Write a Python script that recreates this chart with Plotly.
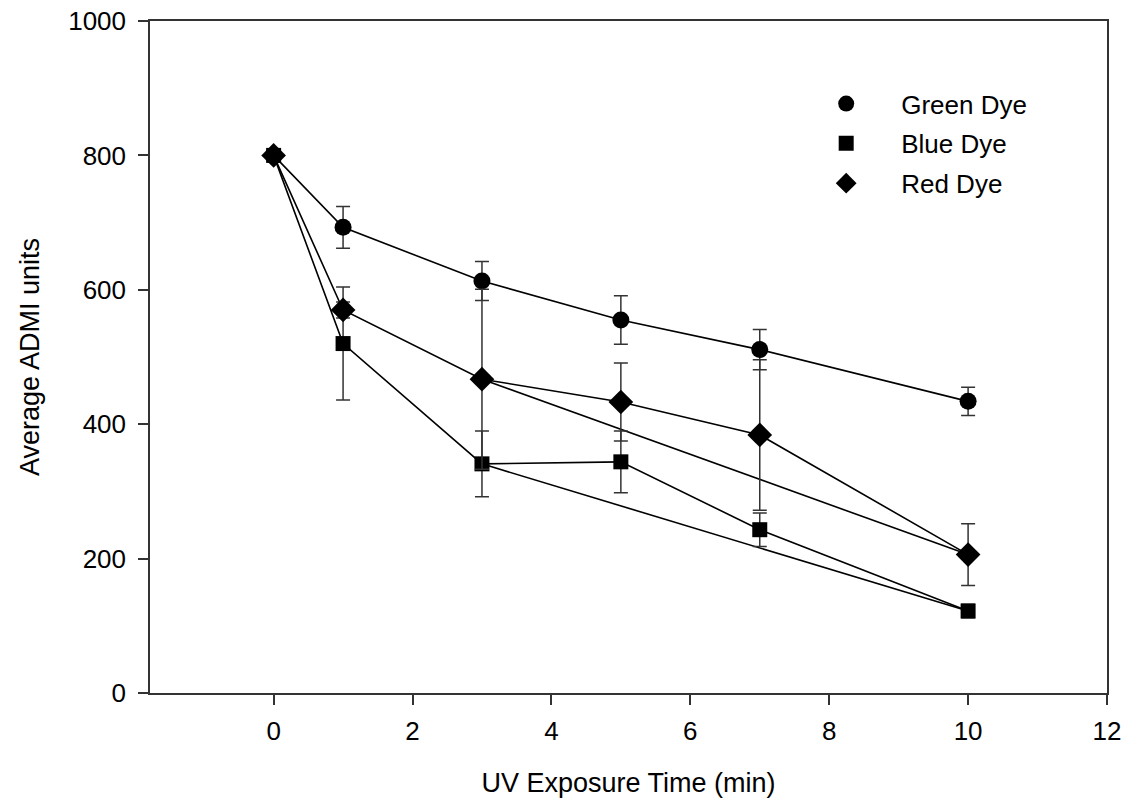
import plotly.graph_objects as go

time_min = [0, 1, 3, 5, 7, 10]
green_dye = [800, 693, 613, 555, 511, 434]
green_err = [0, 31, 29, 36, 30, 21]
blue_dye = [800, 520, 341, 344, 243, 122]
blue_err = [0, 84, 49, 46, 25, 10]
red_dye = [800, 570, 467, 433, 384, 206]
red_err = [0, 12, 134, 58, 112, 46]

x_ticks = [0, 2, 4, 6, 8, 10, 12]
y_ticks = [0, 200, 400, 600, 800, 1000]

FONT = "Liberation Sans, Arial, sans-serif"
LINE = dict(color="black", width=1.6)
ERR_COLOR = "#333333"

fig = go.Figure()

series = [
    ("Green Dye", green_dye, green_err, "circle", 17, False),
    ("Blue Dye", blue_dye, blue_err, "square", 15, True),
    ("Red Dye", red_dye, red_err, "diamond", 19, True),
]

# connecting lines
for name, vals, err, sym, size, extra in series:
    fig.add_trace(go.Scatter(x=time_min, y=vals, mode="lines", line=LINE,
                             showlegend=False, hoverinfo="skip"))
    if extra:
        fig.add_trace(go.Scatter(x=[time_min[2], time_min[5]], y=[vals[2], vals[5]],
                                 mode="lines", line=LINE, showlegend=False, hoverinfo="skip"))

# markers with error bars
for name, vals, err, sym, size, extra in series:
    fig.add_trace(go.Scatter(
        x=time_min, y=vals, mode="markers",
        marker=dict(symbol=sym, size=size, color="black", line=dict(width=0)),
        error_y=dict(type="data", array=[e if e > 0 else None for e in err],
                     visible=True, color=ERR_COLOR, thickness=1.5, width=7),
        showlegend=False, name=name))

# legend entries
for name, vals, err, sym, size, extra in series:
    fig.add_trace(go.Scatter(x=[None], y=[None], mode="markers", name=name,
                             legendgroup=name,
                             marker=dict(symbol=sym, size=size, color="black")))

fig.update_layout(
    width=1128, height=809,
    margin=dict(l=150, r=21, t=21, b=116, autoexpand=False),
    paper_bgcolor="white", plot_bgcolor="white",
    font=dict(family=FONT, color="black", size=26),
    legend=dict(x=0.670, y=0.912, xanchor="left", yanchor="top",
                font=dict(size=26, family=FONT), itemwidth=100,
                bgcolor="rgba(0,0,0,0)", tracegroupgap=3),
    xaxis=dict(range=[-1.78, 12], tickvals=x_ticks, ticks="outside", ticklen=10,
               tickcolor="#333", tickwidth=1.5, automargin=False,
               showline=True, linecolor="#333", linewidth=1.5, mirror=True,
               showgrid=False, zeroline=False, ticklabelstandoff=4,
               ticklabeloverflow="allow",
               tickfont=dict(size=26),
               title=dict(text="UV Exposure Time (min)", font=dict(size=27), standoff=28)),
    yaxis=dict(range=[0, 1000], tickvals=y_ticks, ticks="outside", ticklen=10,
               tickcolor="#333", tickwidth=1.5, automargin=True,
               showline=True, linecolor="#333", linewidth=1.5, mirror=True,
               showgrid=False, zeroline=False, ticklabelstandoff=7,
               ticklabeloverflow="allow",
               tickfont=dict(size=26),
               title=dict(text="Average ADMI units", font=dict(size=27), standoff=21)),
)

# remove the page's default 8px body margin so the figure fills the window
fig.write_html("out.html", config={"displayModeBar": False},
               post_script="document.body.style.margin='0';")
